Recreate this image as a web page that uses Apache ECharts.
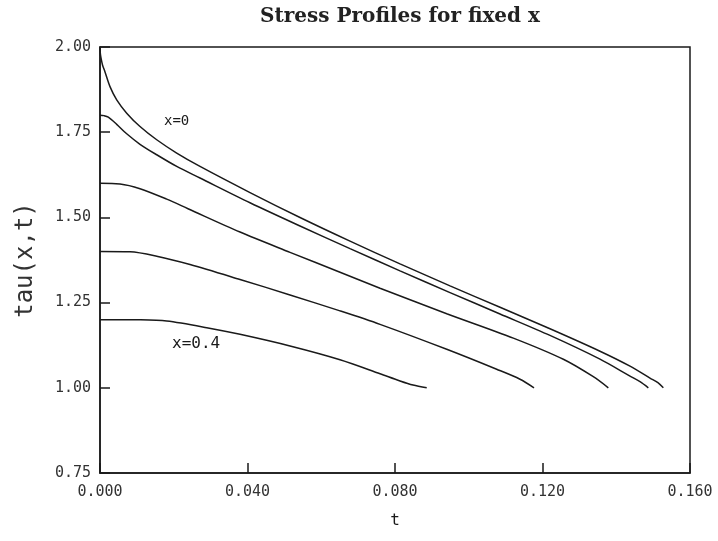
<!DOCTYPE html>
<html>
<head>
<meta charset="utf-8">
<script src="https://cdn.jsdelivr.net/npm/echarts@6/dist/echarts.min.js"></script>
<style>
html,body{margin:0;padding:0;background:#fff;}
#chart{width:718px;height:541px;}
</style>
</head>
<body>
<div id="chart"></div>
<script>
// Tick labels
const xTicks = [0.000, 0.040, 0.080, 0.120, 0.160];
const yTicks = [0.75, 1.00, 1.25, 1.50, 1.75, 2.00];

// Series: [t, tau] pairs
const curveX0 = [[0,2.0],[0.00008,1.9824],[0.00027,1.9678],[0.00068,1.9473],[0.00136,1.9268],[0.00271,1.8838],[0.00453,1.8448],[0.00724,1.8059],[0.01085,1.7667],[0.01538,1.7278],[0.0208,1.6888],[0.02712,1.6496],[0.04068,1.5729],[0.05424,1.4997],[0.0678,1.4303],[0.08136,1.3636],[0.09492,1.2992],[0.10848,1.2362],[0.12203,1.1733],[0.13559,1.1074],[0.14373,1.0635],[0.14915,1.0284],[0.1513,1.0149],[0.15277,1.0]];
const curveX1 = [[0,1.8],[0.00108,1.7986],[0.00225,1.7942],[0.00453,1.7731],[0.00724,1.7453],[0.01085,1.7146],[0.01538,1.6838],[0.0208,1.6496],[0.02712,1.6156],[0.04068,1.5430],[0.05424,1.4748],[0.0678,1.4084],[0.08136,1.3431],[0.09492,1.2793],[0.10848,1.2166],[0.12203,1.1537],[0.13559,1.0840],[0.14373,1.0343],[0.14644,1.0179],[0.1487,1.0]];
const curveX2 = [[0,1.6],[0.00542,1.5981],[0.01085,1.5843],[0.01809,1.5536],[0.02387,1.5255],[0.03797,1.4570],[0.05153,1.3975],[0.06509,1.3390],[0.07594,1.2922],[0.09403,1.2175],[0.11209,1.1458],[0.12565,1.0837],[0.13378,1.0325],[0.13785,1.0]];
const curveX3 = [[0,1.4],[0.00814,1.3990],[0.01538,1.3861],[0.02441,1.3618],[0.03797,1.3179],[0.05153,1.2725],[0.06509,1.2257],[0.07594,1.1862],[0.09403,1.1130],[0.10758,1.0544],[0.11390,1.0252],[0.11770,1.0]];
const curveX4 = [[0,1.2],[0.01085,1.1994],[0.01809,1.1958],[0.02894,1.1765],[0.03797,1.1569],[0.05153,1.1227],[0.06509,1.0823],[0.07594,1.0413],[0.08136,1.0202],[0.08489,1.0082],[0.0886,1.0]];

const curves = [curveX0, curveX1, curveX2, curveX3, curveX4];
const labels = ['x=0', 'x=0.4'];

const chart = echarts.init(document.getElementById('chart'), null, {renderer: 'canvas'});
const ink = '#1a1a1a';
const mono = '"DejaVu Sans Mono", "Liberation Mono", monospace';

const option = {
  animation: false,
  backgroundColor: '#ffffff',
  title: {
    text: 'Stress Profiles for fixed x',
    left: 395,
    top: 2,
    textAlign: 'center',
    textStyle: {fontFamily: '"DejaVu Serif", "Liberation Serif", serif', fontSize: 20, fontWeight: 'bold', color: '#222'}
  },
  grid: {left: 100, right: 28, top: 47, bottom: 68, show: true, borderColor: ink, borderWidth: 1.5, backgroundColor: 'transparent'},
  xAxis: {
    type: 'value',
    min: xTicks[0], max: xTicks[xTicks.length - 1], interval: 0.04,
    name: 't', nameLocation: 'middle', nameGap: 40,
    nameTextStyle: {fontFamily: mono, fontSize: 16, color: ink},
    axisLine: {show: true, lineStyle: {color: ink, width: 1.5}},
    axisTick: {show: true, inside: true, length: 10, lineStyle: {color: ink, width: 1.5}},
    axisLabel: {fontFamily: mono, fontSize: 15, color: '#333', margin: 12, formatter: v => v.toFixed(3)},
    splitLine: {show: false}
  },
  yAxis: {
    type: 'value',
    min: yTicks[0], max: yTicks[yTicks.length - 1], interval: 0.25,
    name: 'tau(x,t)', nameLocation: 'middle', nameGap: 62, nameRotate: 90,
    nameTextStyle: {fontFamily: mono, fontSize: 24, color: '#333'},
    axisLine: {show: true, lineStyle: {color: ink, width: 1.5}},
    axisTick: {show: true, inside: true, length: 10, lineStyle: {color: ink, width: 1.5}},
    axisLabel: {fontFamily: mono, fontSize: 15, color: '#333', margin: 9, formatter: v => v.toFixed(2)},
    splitLine: {show: false}
  },
  graphic: [
    {type: 'text', left: 164, top: 114, style: {text: labels[0], font: '14px ' + mono, fill: ink}},
    {type: 'text', left: 172, top: 336, style: {text: labels[1], font: '16px ' + mono, fill: ink}}
  ],
  series: curves.map(d => ({
    type: 'line',
    data: d,
    smooth: 0.3,
    showSymbol: false,
    lineStyle: {color: ink, width: 1.5},
    silent: true
  }))
};
chart.setOption(option);
</script>
</body>
</html>
